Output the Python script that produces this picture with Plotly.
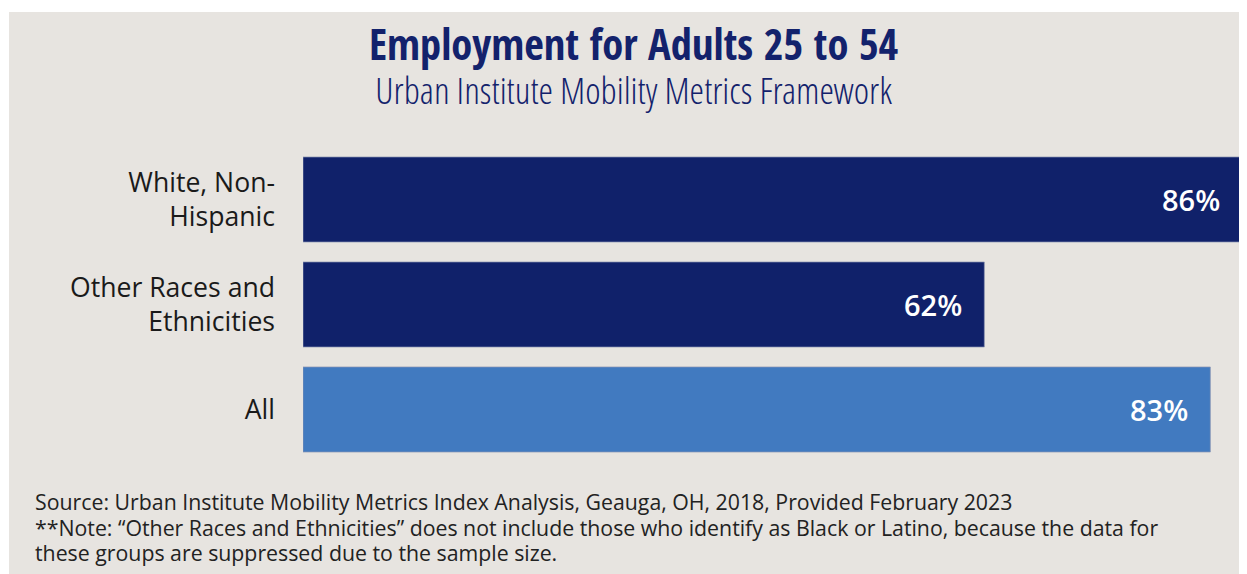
import plotly.graph_objects as go

# ---- data ----
categories = ["White, Non-<br>Hispanic", "Other Races and<br>Ethnicities", "All"]
values = [86.0, 62.4, 83.1]
value_labels = ["86%", "62%", "83%"]
bar_colors = ["#10216a", "#10216a", "#417ac0"]

title_text = "Employment for Adults 25 to 54"
subtitle_text = "Urban Institute Mobility Metrics Framework"
footer_lines = [
    "Source: Urban Institute Mobility Metrics Index Analysis, Geauga, OH, 2018, Provided February 2023",
    "**Note: \u201cOther Races and Ethnicities\u201d does not include those who identify as Black or Latino, because the data for",
    "these groups are suppressed due to the sample size.",
]

# ---- layout geometry (page body has an 8px margin) ----
OFF = 8
W, H = 1247 - OFF, 574 - OFF
ML, MR, MT, MB = 303 - OFF, 5, 147 - OFF, 112
PW, PH = W - ML - MR, H - MT - MB


def px_x(x):
    # x given in window pixels
    return (x - OFF - ML) / PW


def px_y(y):
    return (H - MB - (y - OFF)) / PH


BG = "#e7e4e0"
NAVY = "#13226c"
COND_BOLD = "Open Sans Condensed, Roboto Condensed, Liberation Sans Narrow, DejaVu Sans Condensed, sans-serif"
COND_LIGHT = "'Open Sans Condensed Light', 'Roboto Condensed Light', 'Roboto Condensed', 'Liberation Sans Narrow', 'DejaVu Sans Condensed', sans-serif"

fig = go.Figure()
fig.add_trace(go.Bar(
    x=values,
    y=categories,
    orientation="h",
    marker=dict(color=bar_colors, line=dict(color="rgba(140,150,180,0.7)", width=1)),
    hoverinfo="skip",
    showlegend=False,
))

annotations = []
for cat, v, lab in zip(categories, values, value_labels):
    annotations.append(dict(
        x=v, y=cat, xref="x", yref="y", text=lab, showarrow=False,
        xanchor="right", yanchor="middle", xshift=-20,
        font=dict(family="Open Sans", size=29, color="white", weight=600),
    ))

# title + subtitle in one text block (line spacing = 1.3 x base size)
head_text = (
    f'<span style="font-family:{COND_BOLD}; font-size:42.5px; font-weight:bold">{title_text}</span>'
    f'<br><span style="font-size:37px">{subtitle_text}</span>'
)
annotations.append(dict(
    x=px_x(634), y=px_y(13), xref="paper", yref="paper", text=head_text,
    showarrow=False, xanchor="center", yanchor="top", align="center",
    font=dict(family=COND_LIGHT, size=43.5 / 1.3, color=NAVY, weight=300),
))

# footer (line spacing 25.5px)
footer_size = 21.3
foot_text = "<br>".join(f'<span style="font-size:{footer_size}px">{ln}</span>' for ln in footer_lines)
annotations.append(dict(
    x=px_x(33), y=px_y(508 - 1.1 * footer_size), xref="paper", yref="paper", text=foot_text,
    showarrow=False, xanchor="left", yanchor="top", align="left",
    font=dict(family="Open Sans", size=25.5 / 1.3, color="#222222"),
))

fig.update_layout(
    width=W, height=H,
    margin=dict(l=ML, r=MR, t=MT, b=MB, pad=0),
    paper_bgcolor="white",
    plot_bgcolor=BG,
    bargap=0.19,
    xaxis=dict(range=[0, max(values)], visible=False, fixedrange=True),
    yaxis=dict(
        categoryorder="array", categoryarray=categories, autorange="reversed",
        showgrid=False, zeroline=False, showline=False, ticks="",
        ticklabelstandoff=27,
        tickfont=dict(family="Open Sans", size=26.6, color="#1a1a1a"),
        fixedrange=True,
    ),
    shapes=[dict(
        type="rect", xref="paper", yref="paper", layer="below",
        x0=px_x(9), x1=px_x(1247 + 4), y0=px_y(574 + 4), y1=px_y(12),
        fillcolor=BG, line=dict(width=0),
    )],
    annotations=annotations,
)

fig.write_html("out.html", config=dict(displayModeBar=False, responsive=False))
